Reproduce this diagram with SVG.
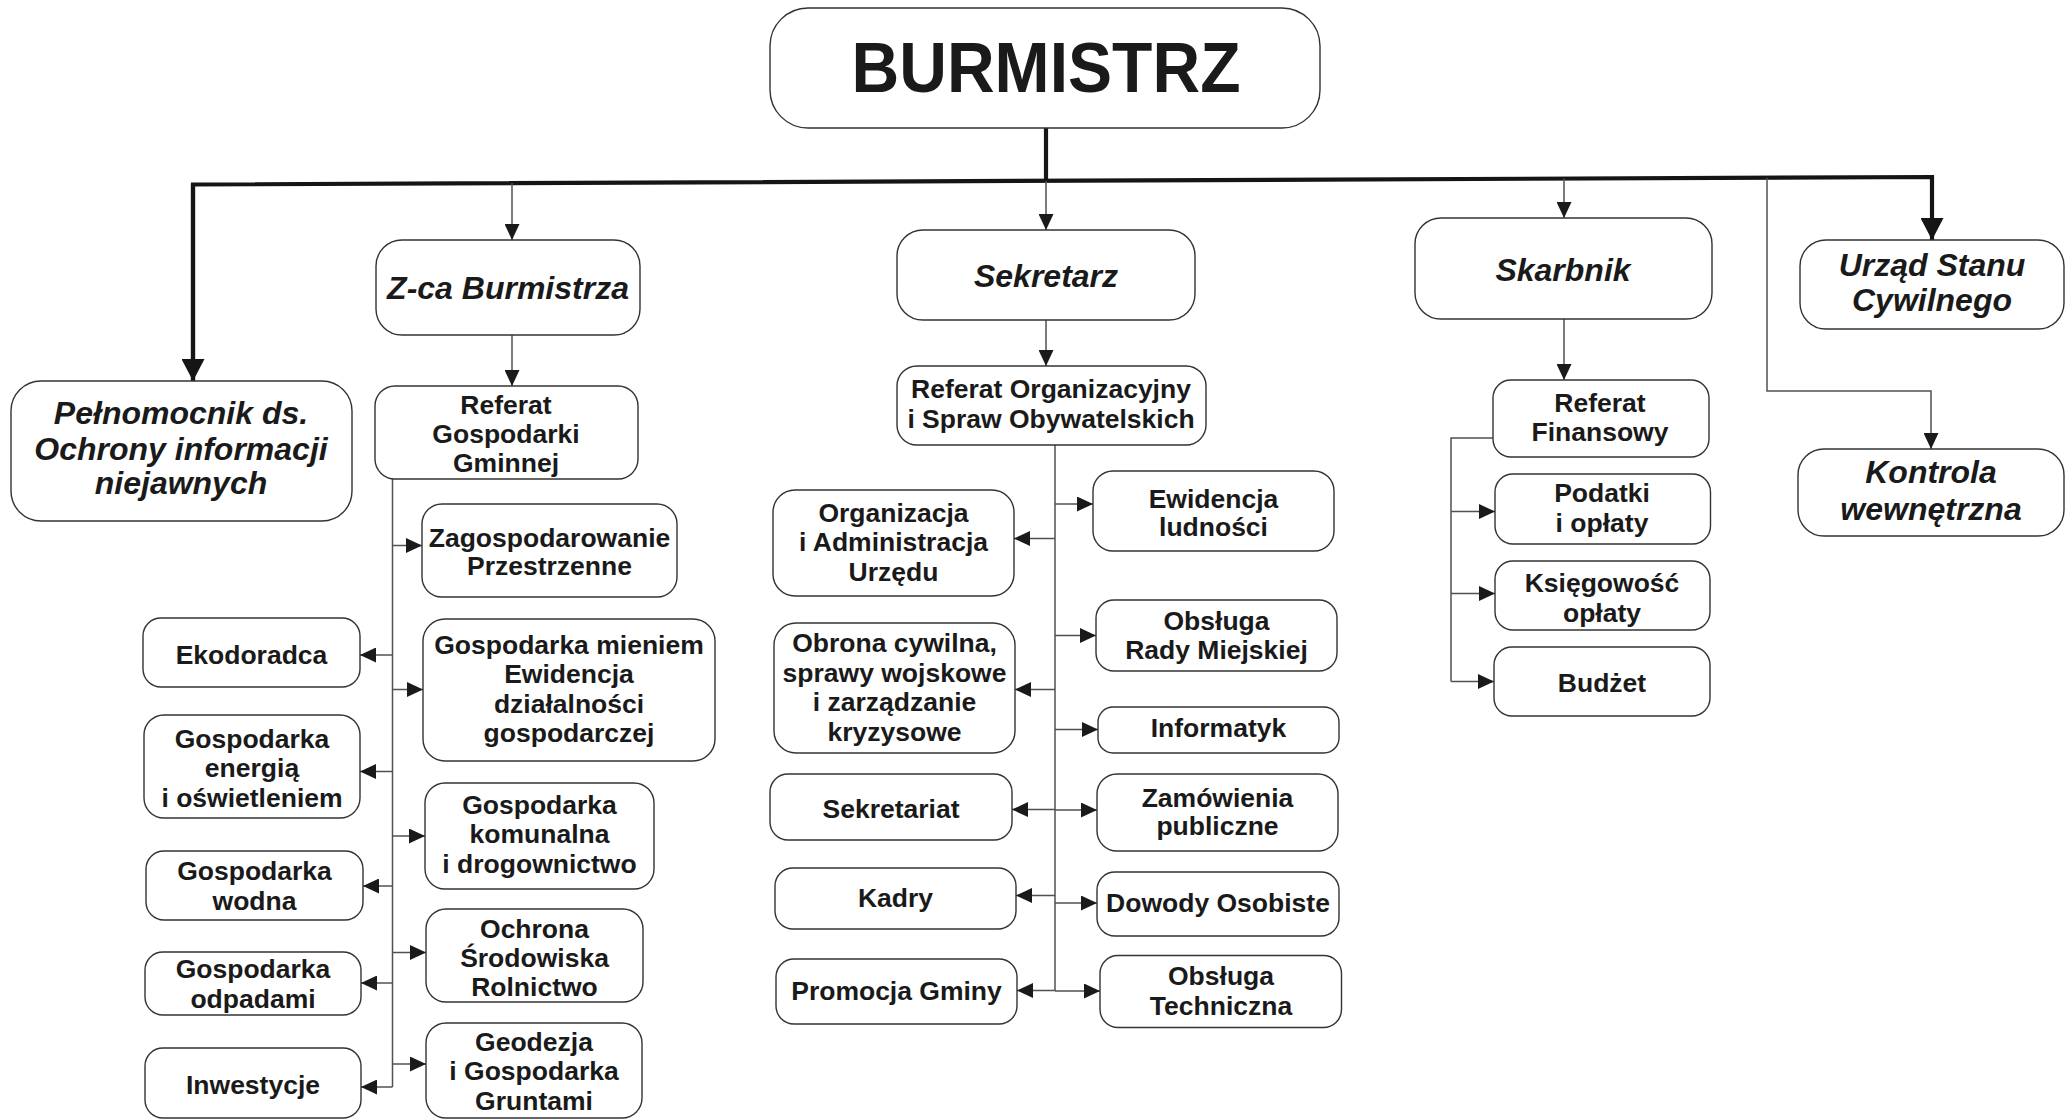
<svg xmlns="http://www.w3.org/2000/svg" width="2071" height="1120" viewBox="0 0 2071 1120">
<defs>
<style>
.b{fill:#fff;stroke:#333;stroke-width:1.4}
.t{font-family:"Liberation Sans",Arial,sans-serif;font-weight:bold;font-size:26.5px;fill:#1a1a1a;text-anchor:middle}
.i{font-family:"Liberation Sans",Arial,sans-serif;font-weight:bold;font-style:italic;font-size:32px;fill:#1a1a1a;text-anchor:middle}
.c{fill:none;stroke:#505050;stroke-width:1.5}
.k{fill:none;stroke:#151515;stroke-width:4.2}
</style>
<marker id="a" markerUnits="userSpaceOnUse" markerWidth="16" markerHeight="15" refX="16" refY="7.5" orient="auto"><path d="M0,0 L16,7.5 L0,15 z" fill="#1a1a1a"/></marker>
<marker id="A" markerUnits="userSpaceOnUse" markerWidth="22" markerHeight="23" refX="22" refY="11.5" orient="auto"><path d="M0,0 L22,11.5 L0,23 z" fill="#151515"/></marker>
</defs>
<rect width="2071" height="1120" fill="#fff"/>
<g id="connectors">
<path class="k" d="M1046,128 V181"/>
<path class="k" d="M193,381 V184.5 L1932,177 V240" marker-end="url(#A)"/>
<path class="k" d="M193,184.5 V381" marker-end="url(#A)"/>
<path class="c" d="M512,183 V240" marker-end="url(#a)"/>
<path class="c" d="M1046,181 V230" marker-end="url(#a)"/>
<path class="c" d="M1564,178.6 V218" marker-end="url(#a)"/>
<path class="c" d="M1767,177.7 V391 H1931 V449" marker-end="url(#a)"/>
<path class="c" d="M512,335 V386" marker-end="url(#a)"/>
<path class="c" d="M1046,320 V366" marker-end="url(#a)"/>
<path class="c" d="M1564,319 V380" marker-end="url(#a)"/>
<path class="c" d="M392.5,479 V1087"/>
<path class="c" d="M392.5,545.5 H422" marker-end="url(#a)"/>
<path class="c" d="M392.5,689.5 H423" marker-end="url(#a)"/>
<path class="c" d="M392.5,836 H425" marker-end="url(#a)"/>
<path class="c" d="M392.5,952.5 H426" marker-end="url(#a)"/>
<path class="c" d="M392.5,1064 H426" marker-end="url(#a)"/>
<path class="c" d="M392.5,655 H360" marker-end="url(#a)"/>
<path class="c" d="M392.5,771.5 H360" marker-end="url(#a)"/>
<path class="c" d="M392.5,886 H363" marker-end="url(#a)"/>
<path class="c" d="M392.5,983 H361" marker-end="url(#a)"/>
<path class="c" d="M392.5,1087 H361" marker-end="url(#a)"/>
<path class="c" d="M1055,445 V991"/>
<path class="c" d="M1055,504 H1093" marker-end="url(#a)"/>
<path class="c" d="M1055,635.5 H1096" marker-end="url(#a)"/>
<path class="c" d="M1055,729.5 H1098" marker-end="url(#a)"/>
<path class="c" d="M1055,810 H1097" marker-end="url(#a)"/>
<path class="c" d="M1055,903 H1097" marker-end="url(#a)"/>
<path class="c" d="M1055,991 H1100" marker-end="url(#a)"/>
<path class="c" d="M1055,538.5 H1014" marker-end="url(#a)"/>
<path class="c" d="M1055,689.5 H1015" marker-end="url(#a)"/>
<path class="c" d="M1055,809.5 H1012" marker-end="url(#a)"/>
<path class="c" d="M1055,895.5 H1016" marker-end="url(#a)"/>
<path class="c" d="M1055,990.5 H1017" marker-end="url(#a)"/>
<path class="c" d="M1493,438 H1451 V681.5"/>
<path class="c" d="M1451,511.5 H1495" marker-end="url(#a)"/>
<path class="c" d="M1451,593.5 H1495" marker-end="url(#a)"/>
<path class="c" d="M1451,681.5 H1494" marker-end="url(#a)"/>
</g>
<g id="burmistrz"><rect class="b" x="770" y="8" width="550" height="120" rx="38"/><text class="t" x="1046" y="92" style="font-size:70px" textLength="389" lengthAdjust="spacingAndGlyphs">BURMISTRZ</text></g>
<g id="pelnomocnik"><rect class="b" x="11" y="381" width="341" height="140" rx="30"/><text class="i" x="181" y="424">Pełnomocnik ds.</text><text class="i" x="181" y="460">Ochrony informacji</text><text class="i" x="181" y="494">niejawnych</text></g>
<g id="zca"><rect class="b" x="376" y="240" width="264" height="95" rx="26"/><text class="i" x="508" y="299">Z-ca Burmistrza</text></g>
<g id="sekretarz"><rect class="b" x="897" y="230" width="298" height="90" rx="26"/><text class="i" x="1046" y="287">Sekretarz</text></g>
<g id="skarbnik"><rect class="b" x="1415" y="218" width="297" height="101" rx="26"/><text class="i" x="1563" y="281">Skarbnik</text></g>
<g id="usc"><rect class="b" x="1800" y="240" width="264" height="89" rx="26"/><text class="i" x="1932" y="276">Urząd Stanu</text><text class="i" x="1932" y="311">Cywilnego</text></g>
<g id="kontrola"><rect class="b" x="1798" y="449" width="266" height="87" rx="26"/><text class="i" x="1931" y="483">Kontrola</text><text class="i" x="1931" y="520">wewnętrzna</text></g>
<g id="referat-gg"><rect class="b" x="375" y="386" width="263" height="93" rx="20"/><text class="t" x="506" y="413.5">Referat</text><text class="t" x="506" y="442.5">Gospodarki</text><text class="t" x="506" y="471.5">Gminnej</text></g>
<g id="zagospodarowanie"><rect class="b" x="422" y="504" width="255" height="93" rx="20"/><text class="t" x="549.5" y="546.5">Zagospodarowanie</text><text class="t" x="549.5" y="575">Przestrzenne</text></g>
<g id="ekodoradca"><rect class="b" x="143" y="618" width="217" height="69" rx="18"/><text class="t" x="251.5" y="663.5">Ekodoradca</text></g>
<g id="mienie"><rect class="b" x="423" y="619" width="292" height="142" rx="22"/><text class="t" x="569" y="653.5">Gospodarka mieniem</text><text class="t" x="569" y="682.5">Ewidencja</text><text class="t" x="569" y="712.5">działalności</text><text class="t" x="569" y="742">gospodarczej</text></g>
<g id="energia"><rect class="b" x="144" y="715" width="216" height="103" rx="20"/><text class="t" x="252" y="747.5">Gospodarka</text><text class="t" x="252" y="776.5">energią</text><text class="t" x="252" y="806.5">i oświetleniem</text></g>
<g id="komunalna"><rect class="b" x="425" y="783" width="229" height="106" rx="20"/><text class="t" x="539.5" y="813.5">Gospodarka</text><text class="t" x="539.5" y="843">komunalna</text><text class="t" x="539.5" y="872.5">i drogownictwo</text></g>
<g id="wodna"><rect class="b" x="146" y="851" width="217" height="69" rx="18"/><text class="t" x="254.5" y="880">Gospodarka</text><text class="t" x="254.5" y="909.5">wodna</text></g>
<g id="ochrona"><rect class="b" x="426" y="909" width="217" height="93" rx="20"/><text class="t" x="534.5" y="937.5">Ochrona</text><text class="t" x="534.5" y="967">Środowiska</text><text class="t" x="534.5" y="995.5">Rolnictwo</text></g>
<g id="odpady"><rect class="b" x="145" y="952" width="216" height="63" rx="18"/><text class="t" x="253" y="978">Gospodarka</text><text class="t" x="253" y="1007.5">odpadami</text></g>
<g id="inwestycje"><rect class="b" x="145" y="1048" width="216" height="70" rx="18"/><text class="t" x="253" y="1093.5">Inwestycje</text></g>
<g id="geodezja"><rect class="b" x="426" y="1023" width="216" height="95" rx="20"/><text class="t" x="534" y="1050.5">Geodezja</text><text class="t" x="534" y="1080">i Gospodarka</text><text class="t" x="534" y="1109.5">Gruntami</text></g>
<g id="referat-org"><rect class="b" x="897" y="366" width="309" height="79" rx="20"/><text class="t" x="1051" y="397.5">Referat Organizacyjny</text><text class="t" x="1051" y="428">i Spraw Obywatelskich</text></g>
<g id="organizacja"><rect class="b" x="773" y="490" width="241" height="106" rx="22"/><text class="t" x="893.5" y="521.5">Organizacja</text><text class="t" x="893.5" y="550.5">i Administracja</text><text class="t" x="893.5" y="580.5">Urzędu</text></g>
<g id="obrona"><rect class="b" x="774" y="623" width="241" height="130" rx="22"/><text class="t" x="894.5" y="651.5">Obrona cywilna,</text><text class="t" x="894.5" y="681.5">sprawy wojskowe</text><text class="t" x="894.5" y="710.5">i zarządzanie</text><text class="t" x="894.5" y="740.5">kryzysowe</text></g>
<g id="sekretariat"><rect class="b" x="770" y="774" width="242" height="66" rx="18"/><text class="t" x="891" y="818">Sekretariat</text></g>
<g id="kadry"><rect class="b" x="775" y="868" width="241" height="61" rx="18"/><text class="t" x="895.5" y="906.5">Kadry</text></g>
<g id="promocja"><rect class="b" x="776" y="959" width="241" height="65" rx="18"/><text class="t" x="896.5" y="999.5">Promocja Gminy</text></g>
<g id="ewidencja"><rect class="b" x="1093" y="471" width="241" height="80" rx="20"/><text class="t" x="1213.5" y="507.5">Ewidencja</text><text class="t" x="1213.5" y="536">ludności</text></g>
<g id="rada"><rect class="b" x="1096" y="600" width="241" height="71" rx="18"/><text class="t" x="1216.5" y="629.5">Obsługa</text><text class="t" x="1216.5" y="659">Rady Miejskiej</text></g>
<g id="informatyk"><rect class="b" x="1098" y="707" width="241" height="46" rx="15"/><text class="t" x="1218.5" y="736.5">Informatyk</text></g>
<g id="zamowienia"><rect class="b" x="1097" y="774" width="241" height="77" rx="20"/><text class="t" x="1217.5" y="806.5">Zamówienia</text><text class="t" x="1217.5" y="835">publiczne</text></g>
<g id="dowody"><rect class="b" x="1097" y="872" width="242" height="64" rx="18"/><text class="t" x="1218" y="911.5">Dowody Osobiste</text></g>
<g id="techniczna"><rect class="b" x="1100" y="955.5" width="241.5" height="72" rx="18"/><text class="t" x="1221" y="985">Obsługa</text><text class="t" x="1221" y="1014.5">Techniczna</text></g>
<g id="referat-fin"><rect class="b" x="1493" y="380" width="216" height="77" rx="18"/><text class="t" x="1600" y="411.5">Referat</text><text class="t" x="1600" y="440.5">Finansowy</text></g>
<g id="podatki"><rect class="b" x="1495" y="474" width="215.5" height="70" rx="18"/><text class="t" x="1602" y="501.5">Podatki</text><text class="t" x="1602" y="531.5">i opłaty</text></g>
<g id="ksiegowosc"><rect class="b" x="1495" y="561" width="215" height="69" rx="18"/><text class="t" x="1602" y="592">Księgowość</text><text class="t" x="1602" y="621.5">opłaty</text></g>
<g id="budzet"><rect class="b" x="1494" y="647" width="216" height="69" rx="18"/><text class="t" x="1602" y="692">Budżet</text></g>
</svg>
